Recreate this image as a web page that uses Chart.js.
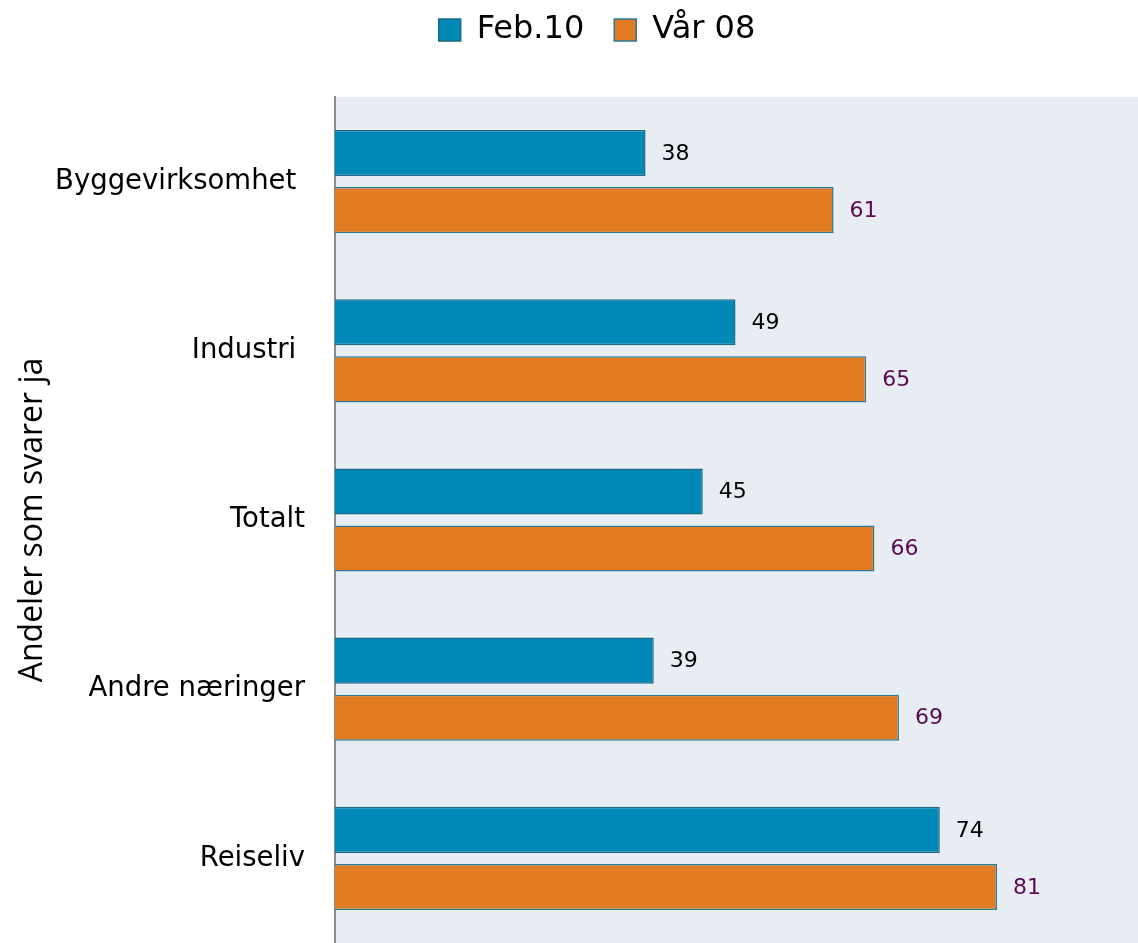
<!DOCTYPE html>
<html>
<head>
<meta charset="utf-8">
<script src="https://cdn.jsdelivr.net/npm/chart.js@4.4.1/dist/chart.umd.min.js"></script>
<style>
  body { margin: 0; background: #fff; }
  #wrap { width: 1138px; height: 943px; position: relative; }
</style>
</head>
<body>
<div id="wrap"><canvas id="myChart"></canvas></div>
<script>
// data
const kategorier = ['Byggevirksomhet ', 'Industri ', 'Totalt', 'Andre næringer', 'Reiseliv'];
const feb10 = [38, 49, 45, 39, 74];
const vaar08 = [61, 65, 66, 69, 81];
const serieNavn = ['Feb.10', 'Vår 08'];
const aksetittel = 'Andeler som svarer ja';

// plot background + legend placement
const bakgrunn = {
    id: 'bakgrunn',
    beforeUpdate(chart) {
        const leg = chart.legend;
        if (leg && !leg._patched) {
            leg._patched = true;
            const fit = leg.fit;
            leg.fit = function() {
                fit.call(this);
                this.height = 97;
            };
            const draw = leg.draw;
            leg.draw = function() {
                const ctx = this.ctx;
                ctx.save();
                ctx.translate(28, -16);
                draw.call(this);
                ctx.restore();
            };
        }
    },
    beforeDraw(chart) {
        const a = chart.chartArea;
        const ctx = chart.ctx;
        ctx.save();
        ctx.fillStyle = '#e8ecf3';
        ctx.fillRect(a.left, a.top, a.right - a.left, a.bottom - a.top);
        ctx.restore();
    }
};

// value labels at bar ends
const verdiEtiketter = {
    id: 'verdiEtiketter',
    afterDatasetsDraw(chart) {
        const ctx = chart.ctx;
        ctx.save();
        ctx.font = '22px "DejaVu Sans"';
        ctx.textAlign = 'left';
        ctx.textBaseline = 'middle';
        chart.data.datasets.forEach((ds, i) => {
            ctx.fillStyle = i === 0 ? '#000000' : '#5a0a50';
            chart.getDatasetMeta(i).data.forEach((bar, j) => {
                ctx.fillText(ds.data[j], bar.x + 16, bar.y + 1);
            });
        });
        ctx.restore();
    }
};

const data = {
    labels: kategorier,
    datasets: [{
        label: serieNavn[0],
        data: feb10,
        backgroundColor: '#0088b6',
        borderColor: '#1c6a86',
        borderWidth: 1.5
    }, {
        label: serieNavn[1],
        data: vaar08,
        backgroundColor: '#e27b22',
        borderColor: '#2a7c98',
        borderWidth: 1.5
    }]
};

const config = {
    type: 'bar',
    data: data,
    options: {
        indexAxis: 'y',
        responsive: true,
        maintainAspectRatio: false,
        animation: false,
        categoryPercentage: 0.675,
        barPercentage: 0.807,
        layout: { padding: 0 },
        plugins: {
            legend: {
                position: 'top',
                labels: {
                    color: '#000',
                    font: { family: '"DejaVu Sans"', size: 32 },
                    boxWidth: 22,
                    boxHeight: 22,
                    padding: 30
                }
            },
            tooltip: { enabled: false }
        },
        scales: {
            x: {
                display: false,
                min: 0,
                max: 98.25
            },
            y: {
                afterFit(scale) {
                    scale.width = 335;
                    scale.paddingTop = 0;
                    scale.paddingBottom = 0;
                },
                grid: { display: false, drawTicks: false },
                border: { display: true, color: '#8c8c8c', width: 2 },
                ticks: {
                    color: '#000',
                    padding: 30,
                    font: { family: '"DejaVu Sans"', size: 27.5 }
                },
                title: {
                    display: true,
                    text: aksetittel,
                    color: '#000',
                    font: { family: '"Open Sans"', size: 32 },
                    padding: { top: 14, bottom: 0 }
                }
            }
        }
    },
    plugins: [bakgrunn, verdiEtiketter]
};

const myChart = new Chart(document.getElementById('myChart'), config);
</script>
</body>
</html>
